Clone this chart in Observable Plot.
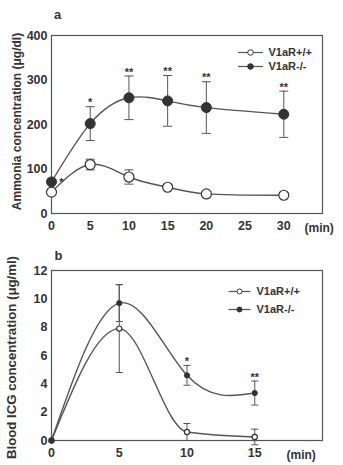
<!DOCTYPE html>
<html><head><meta charset="utf-8">
<script src="https://cdn.jsdelivr.net/npm/d3@7"></script>
<script src="https://cdn.jsdelivr.net/npm/@observablehq/plot@0.6"></script>
<style>body{margin:0;background:#fff;} #c svg{display:block}</style>
</head><body><div id="c"></div>
<script>
// Panel a: ammonia concentration
const timesA = [0, 5, 10, 15, 20, 30];
const wildA = [48, 110, 82, 59, 44, 41];
const wildAErr = [0, 12, 16, 5, 3, 3];
const koA = [71, 202, 260, 253, 238, 223];
const koAErr = [0, 38, 49, 57, 58, 52];
const starsA = ["*", "*", "**", "**", "**", "**"];
const yTicksA = [0, 100, 200, 300, 400];
const xTicksA = [0, 5, 10, 15, 20, 25, 30];

// Panel b: blood ICG concentration
const timesB = [0, 5, 10, 15];
const wildB = [0, 7.9, 0.6, 0.25];
const wildBErr = [0, 3.1, 0.6, 0.55];
const koB = [0, 9.7, 4.6, 3.35];
const koBErr = [0, 1.3, 0.7, 0.85];
const starsB = ["", "", "*", "**"];
const yTicksB = [0, 2, 4, 6, 8, 10, 12];
const xTicksB = [0, 5, 10, 15];

const seriesNames = ["V1aR+/+", "V1aR-/-"];

const INK = "#333";
const LINE = "#555";
const FONT = "'Liberation Sans', Arial, sans-serif";

const hSym = (w) => ({draw(ctx) { ctx.moveTo(-w, 0); ctx.lineTo(w, 0); }});

function rows(t, v, e, s) {
  return t.map((x, i) => ({t: x, v: v[i], e: e[i], s: s ? s[i] : ""}));
}

function panel(cfg) {
  const wild = rows(cfg.times, cfg.wild, cfg.wildErr);
  const ko = rows(cfg.times, cfg.ko, cfg.koErr, cfg.stars);
  const marks = [];
  marks.push(Plot.frame({stroke: LINE, strokeWidth: 1.2}));
  [[wild, cfg.curves[0]], [ko, cfg.curves[1]]].forEach(([d, curve]) => {
    marks.push(Plot.line(d, {x: "t", y: "v", curve, stroke: LINE, strokeWidth: 1.4, clip: true}));
    const de = d.filter(r => r.e > 0);
    marks.push(Plot.ruleX(de, {x: "t", y1: r => r.v - r.e, y2: r => r.v + r.e, stroke: LINE, strokeWidth: 1}));
    marks.push(Plot.dot(de, {x: "t", y: r => r.v + r.e, symbol: hSym(cfg.cap), stroke: LINE, fill: "none", strokeWidth: 1}));
    marks.push(Plot.dot(de, {x: "t", y: r => r.v - r.e, symbol: hSym(cfg.cap), stroke: LINE, fill: "none", strokeWidth: 1}));
  });
  marks.push(Plot.dot(wild, {x: "t", y: "v", r: cfg.r, fill: "white", stroke: INK, strokeWidth: 1.2}));
  marks.push(Plot.dot(ko, {x: "t", y: "v", r: cfg.r, fill: INK, stroke: INK, strokeWidth: 1}));
  // significance stars
  const starsTop = ko.filter(r => r.s && r.e > 0);
  marks.push(Plot.text(starsTop, {x: "t", y: r => r.v + r.e, text: "s", dy: -4, fontSize: 11, fontWeight: "bold", fill: INK}));
  const starsSide = ko.filter(r => r.s && r.e === 0);
  marks.push(Plot.text(starsSide, {x: "t", y: "v", text: "s", dx: 10, dy: 1, fontSize: 11, fontWeight: "bold", fill: INK}));
  // axes
  marks.push(Plot.axisY(cfg.yTicks, {tickSize: 0, tickPadding: 4, label: null, fontSize: 12.5, fontWeight: "bold", fill: INK}));
  marks.push(Plot.axisX(cfg.xTicks, {tickSize: 0, tickPadding: 8, label: null, fontSize: 12.5, fontWeight: "bold", fill: INK}));
  marks.push(Plot.text(["(min)"], {frameAnchor: "bottom-right", dx: cfg.minDx, dy: 15, textAnchor: "start", lineAnchor: "middle", fontSize: 12, fontWeight: "bold", fill: INK}));
  marks.push(Plot.text([cfg.yLabel], {frameAnchor: "left", dx: cfg.yLabelDx, dy: cfg.yLabelDy, rotate: -90, textAnchor: "middle", lineAnchor: "middle", fontSize: cfg.yLabelSize, fill: INK, fontWeight: "bold"}));
  marks.push(Plot.text([cfg.letter], {frameAnchor: "top-left", dx: cfg.letterDx, dy: cfg.letterDy, textAnchor: "middle", lineAnchor: "middle", fontSize: 13, fontWeight: "bold", fill: INK}));
  // legend
  seriesNames.forEach((name, i) => {
    const dy = cfg.legDy[i];
    marks.push(Plot.dot([name], {frameAnchor: "top-right", dx: cfg.legLineDx, dy, symbol: hSym(cfg.legW), stroke: LINE, fill: "none", strokeWidth: 1.2}));
    marks.push(Plot.dot([name], {frameAnchor: "top-right", dx: cfg.legLineDx, dy, r: cfg.legR, fill: i === 0 ? "white" : INK, stroke: INK, strokeWidth: 1}));
    marks.push(Plot.text([name], {frameAnchor: "top-right", dx: cfg.legTextDx, dy, textAnchor: "start", lineAnchor: "middle", fontSize: 11, fontWeight: "bold", fill: INK}));
  });
  return Plot.plot({
    width: 343,
    height: cfg.height,
    marginTop: cfg.mt, marginBottom: cfg.mb, marginLeft: 51, marginRight: 21,
    x: {domain: cfg.xDomain},
    y: {domain: cfg.yDomain},
    style: {fontFamily: FONT, background: "white", color: INK, overflow: "visible"},
    marks
  });
}

const c = document.getElementById("c");
c.append(panel({
  times: timesA, wild: wildA, wildErr: wildAErr, ko: koA, koErr: koAErr, stars: starsA,
  yTicks: yTicksA, xTicks: xTicksA, xDomain: [0, 35], yDomain: [0, 400],
  height: 245, mt: 35, mb: 32, curves: ["natural", "natural"], r: 5, cap: 4.5,
  minDx: -18, yLabel: "Ammonia concentration (\u03bcg/dl)", yLabelDx: -34, yLabelDy: -3, yLabelSize: 12,
  letter: "a", letterDx: 6, letterDy: -21,
  legDy: [17, 31], legLineDx: -72, legW: 12.5, legR: 2.8, legTextDx: -54
}));
c.append(panel({
  times: timesB, wild: wildB, wildErr: wildBErr, ko: koB, koErr: koBErr, stars: starsB,
  yTicks: yTicksB, xTicks: xTicksB, xDomain: [0, 20], yDomain: [0, 12],
  height: 220, mt: 25, mb: 25, curves: ["monotone-x", "natural"], r: 2.6, cap: 3.5,
  minDx: -36, yLabel: "Blood ICG concentration (\u03bcg/ml)", yLabelDx: -40, yLabelDy: 2, yLabelSize: 13.2,
  letter: "b", letterDx: 7, letterDy: -15,
  legDy: [21, 39], legLineDx: -83, legW: 11, legR: 2.5, legTextDx: -66
}));
</script>
</body></html>
